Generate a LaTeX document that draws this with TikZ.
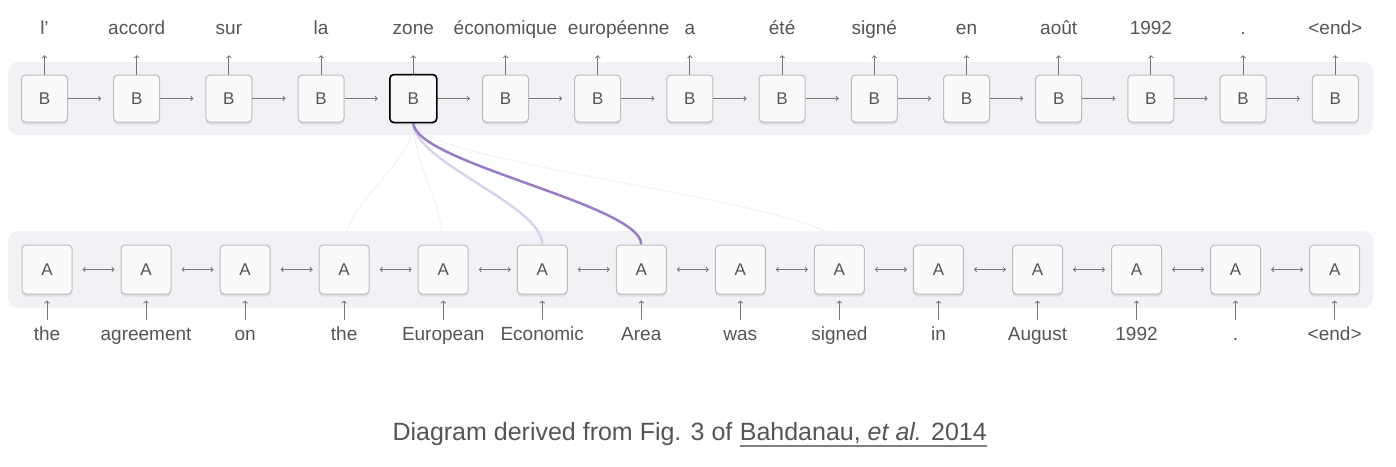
\documentclass[tikz,border=0pt]{standalone}
\usepackage{fontspec}
\setmainfont{Liberation Sans}
\usetikzlibrary{shadows,backgrounds,positioning}
\definecolor{band}{HTML}{F2F1F6}
\definecolor{boxline}{HTML}{BDBDBD}
\definecolor{ink}{HTML}{555555}
\definecolor{arrowgray}{HTML}{777777}
\definecolor{attn}{HTML}{9A7CC8}
\definecolor{attnlight}{HTML}{DDD2EE}
\definecolor{attnfaint}{HTML}{F4F2F8}
\tikzset{
  cell/.style={draw=boxline, fill=white!98!black, rounded corners=4pt, line width=1pt,
    text=ink, font=\fontsize{17}{17}\selectfont,
    drop shadow={shadow xshift=0pt, shadow yshift=-2.5pt, fill=black!30, opacity=.3}},
  word/.style={text=ink, font=\fontsize{19}{19}\selectfont, inner sep=0pt,
    text height=14pt, text depth=4pt, anchor=base},
  link/.style={draw=arrowgray, line width=1pt},
  caption/.style={text=ink, font=\fontsize{25}{25}\selectfont, inner sep=0pt, anchor=base east}
}
\begin{document}
\begin{tikzpicture}[x=1pt, y=-1pt]
  \useasboundingbox (0,0) rectangle (1396,466);
  % decoder row
  \foreach \w [count=\i, evaluate=\i as \x using 44.5+(\i-1)*92.2] in
      {l’, accord, sur, la, zone, économique, européenne, a, été, signé, en, août, 1992, ., <end>} {
    \ifnum\i=7 \def\dx{21}\else\def\dx{0}\fi
    \node[cell, minimum width=46pt, minimum height=47pt] (b\i) at (\x,98.5) {B};
    \node[word, xshift=\dx pt] (t\i) at (\x,34.5) {\w};
    \draw[link, ->, shorten >=16.5pt] (b\i.north) -- (b\i.north |- t\i.south);
  }
  \foreach \i [count=\j from 2] in {1,...,14}
    \draw[link, ->, shorten >=12pt] (b\i) -- (b\j);
  \draw[black, line width=1.5pt, rounded corners=4pt] (b5.south west) rectangle (b5.north east);
  % encoder row
  \foreach \w [count=\i, evaluate=\i as \x using 47+(\i-1)*99.05] in
      {the, agreement, on, the, European, Economic, Area, was, signed, in, August, 1992, ., <end>} {
    \node[cell, minimum width=50pt, minimum height=49pt] (a\i) at (\x,269.5) {A};
    \node[word] (s\i) at (\x,340) {\w};
    \draw[link, ->, shorten <=6pt, shorten >=6pt] (s\i) -- (a\i);
  }
  \foreach \i [count=\j from 2] in {1,...,13}
    \draw[link, <->, shorten <=10pt, shorten >=6pt] (a\i) -- (a\j);
  % attention
  \begin{scope}[on background layer]
    \fill[band, rounded corners=10pt] (8,62) rectangle (1373,135);
    \fill[band, rounded corners=10pt] (8,231) rectangle (1373,308);
    \foreach \k in {4,5,9}
      \draw[attnfaint, line width=1.2pt] (b5.south) .. controls +(0,40) and +(0,-40) .. (a\k.north);
    \draw[attnlight, line width=2.5pt] (b5.south) .. controls +(0,40) and +(0,-40) .. (a6.north);
    \draw[attn, line width=2.5pt] (b5.south) .. controls +(0,40) and +(0,-40) .. (a7.north);
  \end{scope}
  % caption
  \node[caption] (ref) at (987,440) {Bahdanau, \textit{et al.} 2014};
  \node[caption, left=7pt of ref.base west, anchor=base east] (cap) {Diagram derived from Fig. 3 of};
  \draw[ink!75, line width=1.5pt] ([yshift=-6pt]ref.base west) -- ([yshift=-6pt]ref.base east);
\end{tikzpicture}
\end{document}
